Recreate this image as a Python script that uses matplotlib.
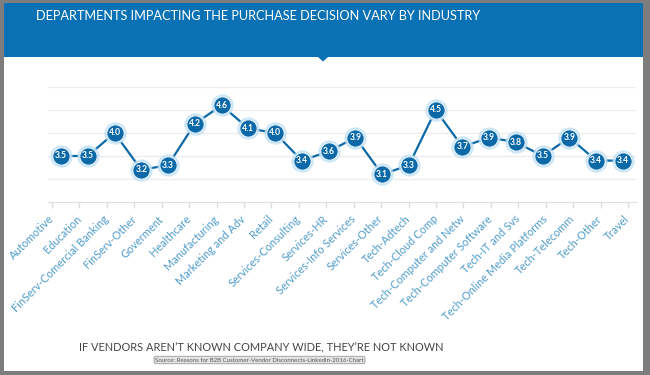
import matplotlib
matplotlib.use("Agg")
import matplotlib.pyplot as plt
from matplotlib.patches import Rectangle, Polygon
import numpy as np

categories = ["Automotive", "Education", "FinServ-Comercial Banking", "FinServ-Other",
              "Goverment", "Healthcare", "Manufacturing", "Marketing and Adv", "Retail",
              "Services-Consulting", "Services-HR", "Services-Info Services",
              "Services-Other", "Tech-Adtech", "Tech-Cloud Comp", "Tech-Computer and Netw",
              "Tech-Computer Software", "Tech-IT and Svs", "Tech-Online Media Platforms",
              "Tech-Telecomm", "Tech-Other", "Travel"]
values = [3.5, 3.5, 4.0, 3.2, 3.3, 4.2, 4.6, 4.1, 4.0, 3.4, 3.6, 3.9,
          3.1, 3.3, 4.5, 3.7, 3.9, 3.8, 3.5, 3.9, 3.4, 3.4]
title = "DEPARTMENTS IMPACTING THE PURCHASE DECISION VARY BY INDUSTRY"
subtitle = "IF VENDORS AREN\u2019T KNOWN COMPANY WIDE, THEY\u2019RE NOT KNOWN"
source = "Source: Reasons for B2B Customer-Vendor Disconnects-LinkedIn-2016-Chart"

W, H = 650, 375
BLUE = "#0a72b4"
DARK = "#0b69a8"
plt.rcParams['font.family'] = ['Lato', 'DejaVu Sans']

fig = plt.figure(figsize=(W / 100, H / 100), dpi=100, facecolor="#7d7d7d")

def fx(x):
    return x / W

def fy(y):
    return 1 - y / H

# white card and blue header
fig.patches.append(Rectangle((fx(4), fy(371)), fx(643 - 4), (371 - 3) / H,
                             transform=fig.transFigure, facecolor="white", edgecolor="none", zorder=-3))
fig.patches.append(Rectangle((fx(4), fy(57)), fx(643 - 4), (57 - 3) / H,
                             transform=fig.transFigure, facecolor=BLUE, edgecolor="none", zorder=-2))
fig.patches.append(Polygon([(fx(318), fy(57)), (fx(328), fy(57)), (fx(323), fy(61.5))],
                           closed=True, transform=fig.transFigure, facecolor=BLUE,
                           edgecolor="none", zorder=-2))

fig.text(fx(258.5), fy(16), title, color="white", fontsize=9.2, ha="center", va="center")

ax = fig.add_axes([fx(47.6), fy(202), fx(636.4 - 47.6), (202 - 87) / H])
ax.set_zorder(2)
ax.set_facecolor("none")
x = np.arange(len(categories))
ax.set_xlim(-0.5, len(categories) - 0.5)
ax.set_ylim(2.5, 5.0)
ax.set_yticks([3.0, 3.5, 4.0, 4.5, 5.0])
ax.yaxis.grid(True, color="#ececec", linewidth=0.9)
ax.set_axisbelow(True)
ax.tick_params(axis="y", left=False, labelleft=False)
for s in ["left", "right", "top"]:
    ax.spines[s].set_visible(False)
ax.spines["bottom"].set_color("#e0e0e0")
ax.spines["bottom"].set_linewidth(0.9)

# category ticks (reference ticks are spread slightly wider than the points)
tick_pos = -0.336 + 1.025 * x
ax.set_xticks(tick_pos)
ax.set_xticklabels(categories, rotation=45, ha="right", va="center",
                   rotation_mode="anchor", color="#4f9ccb", fontsize=7.9)
ax.tick_params(axis="x", length=4, color="#dcdcdc", width=0.9, pad=7)

ax.plot(x, values, color=DARK, linewidth=1.6, zorder=2)
ax.plot(x, values, linestyle="none", marker="o", markersize=16,
        markerfacecolor="#bfe0f5", markeredgecolor="none", alpha=0.8, zorder=3, clip_on=False)
ax.plot(x, values, linestyle="none", marker="o", markersize=12.5,
        markerfacecolor=DARK, markeredgecolor="#e3f1fb", markeredgewidth=0.8,
        zorder=4, clip_on=False)
for xi, v in zip(x, values):
    ax.text(xi, v, f"{v:.1f}", color="white", fontsize=6.2, fontweight="bold",
            ha="center", va="center", zorder=5)

fig.text(fx(261), fy(348), subtitle, color="#454545", fontsize=7.9, ha="center", va="center")
fig.text(fx(259.5), fy(360), source, color="#555555", fontsize=4.4, ha="center", va="center",
         bbox=dict(boxstyle="round,pad=0.2,rounding_size=0.3", facecolor="#e4e4e4",
                   edgecolor="#9a9a9a", linewidth=0.6))

fig.savefig("out.png", dpi=100, facecolor=fig.get_facecolor())
